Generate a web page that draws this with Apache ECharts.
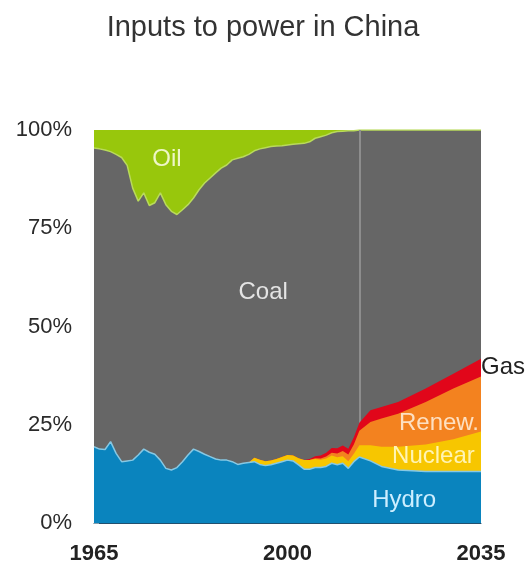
<!DOCTYPE html>
<html>
<head>
<meta charset="utf-8">
<title>Inputs to power in China</title>
<script src="https://cdn.jsdelivr.net/npm/echarts@6/dist/echarts.min.js"></script>
<style>
  html, body { margin: 0; padding: 0; background: #ffffff; }
  #chart { width: 526px; height: 565px; }
</style>
</head>
<body>
<div id="chart"></div>
<script>
// Share of each fuel in power generation inputs (%), history to 2012 then outlook
const years = [
  1965, 1966, 1967, 1968, 1969, 1970, 1971, 1972, 1973, 1974,
  1975, 1976, 1977, 1978, 1979, 1980, 1981, 1982, 1983, 1984,
  1985, 1986, 1987, 1988, 1989, 1990, 1991, 1992, 1993, 1994,
  1995, 1996, 1997, 1998, 1999, 2000, 2001, 2002, 2003, 2004,
  2005, 2006, 2007, 2008, 2009, 2010, 2011, 2012,
  2013, 2015, 2017, 2020, 2025, 2030, 2035
];

const hydro = [
  19.4, 18.8, 18.7, 20.7, 17.7, 15.6, 15.8, 16.0, 17.3, 18.8,
  18.0, 17.5, 16.0, 13.9, 13.5, 14.1, 15.6, 17.3, 18.8, 18.2,
  17.5, 16.9, 16.3, 16.0, 16.0, 15.6, 14.9, 15.2, 15.4, 15.6,
  14.9, 14.6, 14.8, 15.2, 15.6, 16.0, 15.8, 14.8, 13.7, 13.7,
  14.1, 14.1, 14.4, 15.2, 14.8, 15.2, 13.9, 15.6,
  16.8, 15.8, 14.4, 13.5, 13.1, 13.1, 13.1
];

const nuclear = [
  0, 0, 0, 0, 0, 0, 0, 0, 0, 0,
  0, 0, 0, 0, 0, 0, 0, 0, 0, 0,
  0, 0, 0, 0, 0, 0, 0, 0, 0, 1.0,
  1.2, 1.1, 1.1, 1.1, 1.2, 1.3, 1.4, 1.7, 2.3, 2.3,
  2.2, 2.0, 2.0, 2.0, 1.9, 1.8, 1.8, 2.0,
  3.0, 4.0, 5.0, 5.9, 6.9, 8.2, 10.2
];

const renew = [
  0, 0, 0, 0, 0, 0, 0, 0, 0, 0,
  0, 0, 0, 0, 0, 0, 0, 0, 0, 0,
  0, 0, 0, 0, 0, 0, 0, 0, 0, 0,
  0, 0, 0, 0, 0, 0, 0, 0, 0, 0,
  0.2, 0.3, 0.5, 0.7, 1.0, 1.3, 1.7, 2.4,
  3.7, 5.9, 7.2, 8.4, 10.8, 12.9, 14.0
];

const gas = [
  0, 0, 0, 0, 0, 0, 0, 0, 0, 0,
  0, 0, 0, 0, 0, 0, 0, 0, 0, 0,
  0, 0, 0, 0, 0, 0, 0, 0, 0, 0,
  0, 0, 0, 0, 0, 0, 0, 0, 0, 0.3,
  0.5, 0.8, 1.0, 1.2, 1.3, 1.4, 1.5, 1.8,
  2.0, 3.0, 2.9, 3.0, 3.4, 3.8, 4.5
];

const coal = [
  76.0, 76.4, 76.2, 73.8, 76.1, 77.4, 75.2, 69.2, 64.6, 65.2,
  62.8, 64.0, 68.0, 67.1, 65.8, 64.4, 64.1, 63.7, 63.9, 66.6,
  69.0, 70.9, 72.8, 74.3, 75.1, 76.8, 77.9, 78.0, 78.4, 78.1,
  79.1, 79.8, 79.9, 79.6, 79.2, 78.9, 79.2, 80.0, 80.6, 80.7,
  80.9, 81.1, 80.8, 80.2, 80.6, 80.0, 80.9, 78.0,
  74.5, 71.3, 70.5, 69.2, 65.8, 62.0, 58.2
];

const oil = [
  4.6, 4.8, 5.1, 5.5, 6.2, 7.0, 9.0, 14.8, 18.1, 16.0,
  19.2, 18.5, 16.0, 19.0, 20.7, 21.5, 20.3, 19.0, 17.3, 15.2,
  13.5, 12.2, 10.9, 9.7, 8.9, 7.6, 7.2, 6.8, 6.2, 5.3,
  4.8, 4.5, 4.2, 4.1, 4.0, 3.8, 3.6, 3.5, 3.4, 3.0,
  2.1, 1.7, 1.3, 0.7, 0.4, 0.3, 0.2, 0.2,
  0, 0, 0, 0, 0, 0, 0
];

const yearTicks = [1965, 2000, 2035];
const shareTicks = [0, 25, 50, 75, 100];
const outlookStart = 2013;

const FONT = "'Liberation Sans', Arial, sans-serif";

// Layers from the bottom of the stack to the top
const layers = [
  { name: 'Hydro',   values: hydro,   color: '#0a84be', line: { color: '#86c8e4', width: 1.5 } },
  { name: 'Nuclear', values: nuclear, color: '#f7c600', line: null },
  { name: 'Renew.',  values: renew,   color: '#f3821f', line: null },
  { name: 'Gas',     values: gas,     color: '#e1061a', line: null },
  { name: 'Coal',    values: coal,    color: '#666666', line: { color: '#b9da5c', width: 1.5 } },
  { name: 'Oil',     values: oil,     color: '#98c70c', line: null }
];

// Running totals: each layer is filled from the axis up to its cumulative top,
// drawn top layer first so the lower layers paint over it.
const running = years.map(function () { return 0; });
const tops = layers.map(function (l) {
  return years.map(function (y, i) {
    running[i] += l.values[i];
    return [y, Math.round(running[i] * 100) / 100];
  });
});

const series = layers.map(function (l, idx) {
  return {
    name: l.name,
    type: 'line',
    symbol: 'none',
    smooth: false,
    silent: true,
    z: 2 + (layers.length - idx),
    data: tops[idx],
    lineStyle: l.line ? { color: l.line.color, width: l.line.width } : { width: 0 },
    areaStyle: { color: l.color, opacity: 1, origin: 'start' },
    itemStyle: { color: l.color }
  };
}).reverse();

// Dividing line between history and outlook, on the bottom-most layer (drawn last)
series[series.length - 1].markLine = {
  silent: true,
  symbol: ['none', 'none'],
  label: { show: false },
  lineStyle: { color: '#8d8d8d', width: 2, type: 'solid' },
  data: [{ xAxis: outlookStart }]
};

const chart = echarts.init(document.getElementById('chart'), null, { renderer: 'canvas' });

chart.setOption({
  animation: false,
  backgroundColor: '#ffffff',
  title: {
    text: 'Inputs to power in China',
    left: 'center',
    top: 8,
    textStyle: { fontFamily: FONT, fontSize: 29, fontWeight: 'normal', color: '#333333' }
  },
  grid: { left: 94, right: 45, top: 130, bottom: 40, containLabel: false },
  xAxis: {
    type: 'value',
    min: yearTicks[0],
    max: yearTicks[yearTicks.length - 1],
    interval: 5,
    axisLine: { show: true, lineStyle: { color: '#22506e', width: 1 } },
    axisTick: { show: false },
    splitLine: { show: false },
    axisLabel: {
      margin: 20,
      fontFamily: FONT,
      fontSize: 22,
      fontWeight: 'bold',
      color: '#222222',
      showMinLabel: true,
      showMaxLabel: true,
      formatter: function (v) { return yearTicks.indexOf(v) >= 0 ? String(v) : ''; }
    }
  },
  yAxis: {
    type: 'value',
    min: shareTicks[0],
    max: shareTicks[shareTicks.length - 1],
    interval: 25,
    axisLine: { show: false },
    axisTick: { show: true, inside: true, length: 5, lineStyle: { color: 'rgba(255,255,255,0.45)', width: 1 } },
    splitLine: { show: false },
    axisLabel: {
      margin: 22,
      fontFamily: FONT,
      fontSize: 22,
      color: '#2a2a2a',
      formatter: '{value}%'
    }
  },
  series: series
});

// Layer names, anchored in data coordinates
const annotations = [
  { text: 'Oil',     at: [1978.2, 92.4], color: '#eef6c6', align: 'center' },
  { text: 'Coal',    at: [1995.6, 58.7], color: '#e4e4e4', align: 'center' },
  { text: 'Gas',     at: [2035,   39.5], color: '#222222', align: 'left' },
  { text: 'Renew.',  at: [2027.4, 25.3], color: '#fde0c2', align: 'center' },
  { text: 'Nuclear', at: [2026.4, 17.0], color: '#fff4b4', align: 'center' },
  { text: 'Hydro',   at: [2021.1, 5.8],  color: '#cdeeff', align: 'center' }
];

chart.setOption({
  graphic: annotations.map(function (a) {
    const p = chart.convertToPixel({ gridIndex: 0 }, a.at);
    return {
      type: 'text',
      x: p[0],
      y: p[1],
      silent: true,
      z: 100,
      style: {
        text: a.text,
        fill: a.color,
        fontFamily: FONT,
        fontSize: 24,
        align: a.align,
        verticalAlign: 'middle'
      }
    };
  })
});
</script>
</body>
</html>
